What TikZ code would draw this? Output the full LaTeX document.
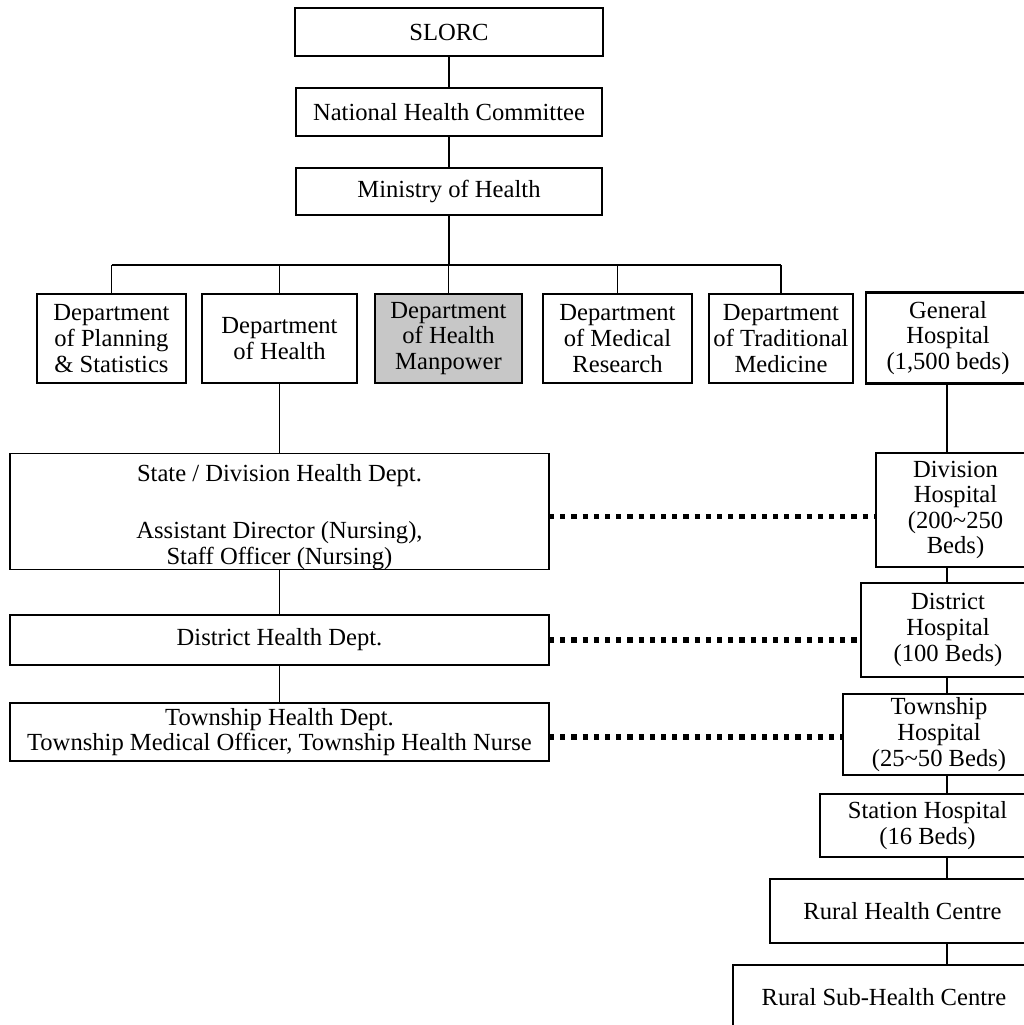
\documentclass[tikz,border=0pt]{standalone}
\usepackage{fontspec}
\setmainfont{Liberation Serif}
\usepackage{tikz}
\usetikzlibrary{positioning}

\newcommand{\orgfont}{\fontsize{12.3}{12.8}\selectfont}

\begin{document}
\begin{tikzpicture}[
  x=0.5pt, y=-0.5pt,
  orgbox/.style={rectangle, draw, line width=0.7pt, inner sep=0pt, outer sep=0pt, align=center, font=\orgfont},
  heavy/.style={orgbox, line width=1.25pt},
  wire/.style={line width=0.8pt},
  link/.style={line width=2.6pt, dash pattern=on 2.6pt off 3pt}
]
\useasboundingbox (0,0) rectangle (1024,1025);
\clip (0,0) rectangle (1024,1025);

%% Top of the chain
\node[orgbox, minimum width=154pt, minimum height=24pt] (slorc) at (449,32) {SLORC};
\node[orgbox, minimum width=153pt, minimum height=24pt] (nhc) at (449,112) {National Health Committee};
\node[orgbox, minimum width=153pt, minimum height=23.5pt] (moh) at (449,191.5) {Ministry of Health};

%% Departments
\node[orgbox, minimum width=74.5pt, minimum height=44.5pt] (plan) at (111.5,338.5) {Department\\of Planning\\\& Statistics};
\node[heavy, minimum width=77.5pt, minimum height=44.5pt] (doh) at (279.5,338.5) {Department\\of Health};
\node[heavy, fill=black!22, minimum width=73.5pt, minimum height=44.5pt] (dhm) at (448.5,338.5) {Department\\of Health\\Manpower};
\node[orgbox, minimum width=74.5pt, minimum height=44.5pt] (dmr) at (617.5,338.5) {Department\\of Medical\\Research};
\node[orgbox, minimum width=72pt, minimum height=44.5pt] (dtm) at (781,338.5) {Department\\of Traditional\\Medicine};
\node[heavy, minimum width=82pt, minimum height=45.5pt] (genh) at (948,338) {General\\Hospital\\(1,500 beds)};

%% Health department levels
\node[orgbox, minimum width=269.5pt, minimum height=56.5pt] (state) at (279.5,511.5) {\rule{0pt}{14pt}State / Division Health Dept.\\[16pt]Assistant Director (Nursing),\\Staff Officer (Nursing)};
\node[orgbox, minimum width=269.5pt, minimum height=25pt] (dhd) at (279.5,640) {District Health Dept.};
\node[orgbox, minimum width=269.5pt, minimum height=29pt] (thd) at (279.5,732) {Township Health Dept.\\Township Medical Officer, Township Health Nurse};

%% Hospitals
\node[heavy, minimum width=79.5pt, minimum height=57pt] (divh) at (955.5,510) {Division\\Hospital\\(200\textasciitilde 250\\Beds)};
\node[heavy, minimum width=87pt, minimum height=47pt] (dish) at (948,630) {District\\Hospital\\(100 Beds)};
\node[heavy, minimum width=96pt, minimum height=40.5pt] (twnh) at (939,734.5) {Township\\Hospital\\(25\textasciitilde 50 Beds)};
\node[heavy, minimum width=107.5pt, minimum height=31.5pt] (stah) at (927.5,825.5) {Station Hospital\\(16 Beds)};
\node[heavy, minimum width=132.5pt, minimum height=32pt] (rhc) at (902.5,911) {Rural Health Centre};
\node[heavy, minimum width=151pt, minimum height=32pt] (rshc) at (884,997) {Rural Sub-Health Centre};

\coordinate (bus) at (0,265);
\coordinate (spine) at (947,0);

%% Chain of command
\draw[wire] (slorc) -- (nhc);
\draw[wire] (nhc) -- (moh);
\draw[wire] (moh.south) -- (moh.south |- bus);
\draw[wire] (plan.north |- bus) -- (dtm.north |- bus);
\draw[wire] (plan.north) -- (plan.north |- bus);
\draw[wire] (doh.north) -- (doh.north |- bus);
\draw[wire] (dhm.north) -- (dhm.north |- bus);
\draw[wire] (dmr.north) -- (dmr.north |- bus);
\draw[wire] (dtm.north) -- (dtm.north |- bus);

\draw[wire] (doh) -- (state);
\draw[wire] (state) -- (dhd);
\draw[wire] (dhd) -- (thd);

%% Hospital column
\draw[wire] (genh.south -| spine) -- (divh.north -| spine);
\draw[wire] (divh.south -| spine) -- (dish.north -| spine);
\draw[wire] (dish.south -| spine) -- (twnh.north -| spine);
\draw[wire] (twnh.south -| spine) -- (stah.north -| spine);
\draw[wire] (stah.south -| spine) -- (rhc.north -| spine);
\draw[wire] (rhc.south -| spine) -- (rshc.north -| spine);

%% Links
\draw[link] ([yshift=-2.5pt]state.east) -- ([yshift=-2.5pt]state.east -| divh.west);
\draw[link] (dhd.east) -- (dhd.east -| dish.west);
\draw[link] ([yshift=-2.5pt]thd.east) -- ([yshift=-2.5pt]thd.east -| twnh.west);
\end{tikzpicture}
\end{document}
